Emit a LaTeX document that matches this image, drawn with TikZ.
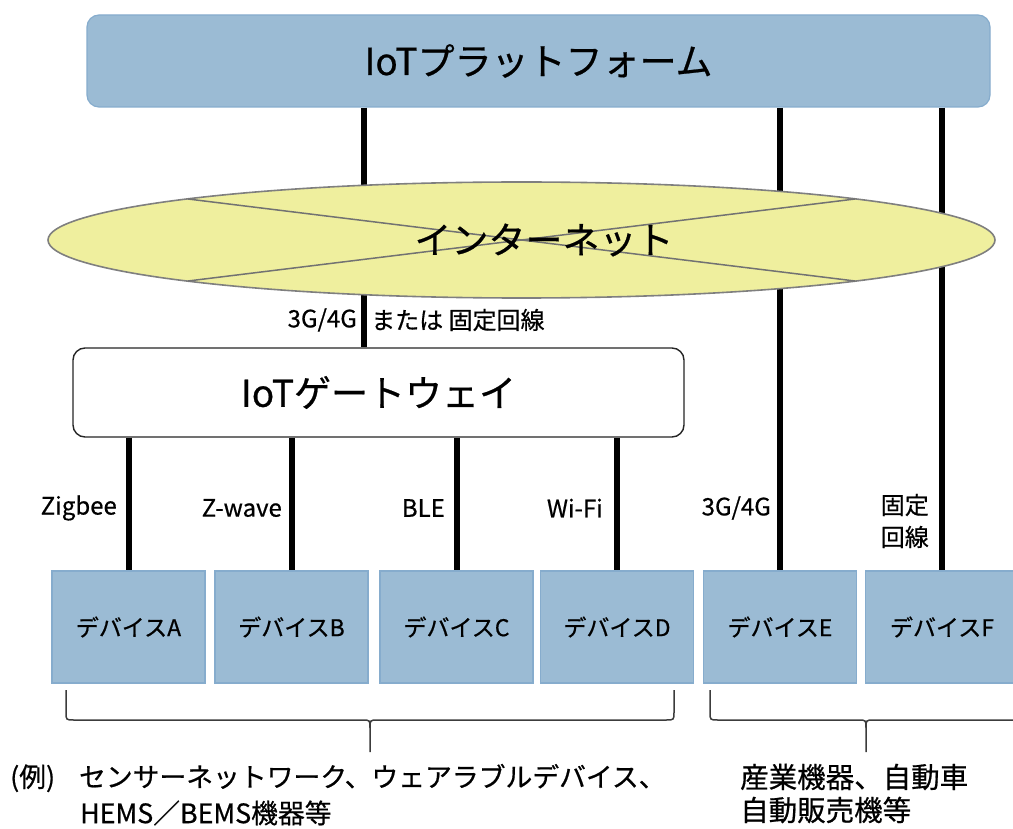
\documentclass[tikz,border=0pt]{standalone}
\usepackage{fontspec}
\setmainfont{Noto Sans CJK JP}[FakeBold=0.6]
\usetikzlibrary{shapes.geometric,calc}
\definecolor{boxblue}{HTML}{9BBBD4}
\definecolor{boxedge}{HTML}{86ACCD}
\definecolor{inetfill}{HTML}{EFEF9E}
\definecolor{inetedge}{HTML}{7F7F7F}
\definecolor{braceink}{HTML}{3C3C3C}
\begin{document}
\begin{tikzpicture}[x=1pt,y=-1pt,
  conn/.style={line width=6pt,black},
  platform/.style={draw=boxedge,line width=1.2pt,fill=boxblue,rounded corners=12pt,
    minimum width=903pt,minimum height=92pt,inner sep=0pt,font=\fontsize{37}{40}\selectfont},
  inetshape/.style={ellipse,draw=inetedge,line width=1.6pt,fill=inetfill,
    minimum width=947pt,minimum height=116pt,inner sep=0pt},
  crossline/.style={draw=inetedge!90!black,line width=1.5pt},
  bigtext/.style={inner sep=0pt,font=\fontsize{37}{40}\selectfont},
  gateway/.style={draw=black!85,line width=1.4pt,fill=white,rounded corners=12pt,
    minimum width=611pt,minimum height=89pt,inner sep=0pt,font=\fontsize{37}{40}\selectfont},
  device/.style={draw=boxedge,line width=1.2pt,fill=boxblue,minimum width=153pt,
    minimum height=112pt,inner sep=0pt,font=\fontsize{23}{26}\selectfont},
  proto/.style={inner sep=0pt,font=\fontsize{24}{32}\selectfont,align=center},
  note/.style={inner sep=0pt,anchor=west},
  brace/.style={draw=braceink,line width=1.5pt}
]
\useasboundingbox (0,0) rectangle (1013,829);
\clip (0,0) rectangle (1013,829);

% nodes
\node[platform] (plat) at (538.5,61) {IoTプラットフォーム};
\node[gateway] (gw) at (378.5,392.5) {IoTゲートウェイ};
\node[device] (devA) at (128.5,627) {デバイスA};
\node[device] (devB) at (291.5,627) {デバイスB};
\node[device] (devC) at (456.5,627) {デバイスC};
\node[device] (devD) at (617,627) {デバイスD};
\node[device] (devE) at (780,627) {デバイスE};
\node[device] (devF) at (942,627) {デバイスF};
\coordinate (mid) at (364,0);

% connectors (behind the internet ellipse)
\draw[conn] (plat.south -| mid) -- (gw.north -| mid);
\draw[conn] (plat.south -| devE.north) -- (devE.north);
\draw[conn] (plat.south -| devF.north) -- (devF.north);
\draw[conn] (gw.south -| devA.north) -- (devA.north);
\draw[conn] (gw.south -| devB.north) -- (devB.north);
\draw[conn] (gw.south -| devC.north) -- (devC.north);
\draw[conn] (gw.south -| devD.north) -- (devD.north);

% internet
\node[inetshape] (inet) at (521.5,240) {};
\draw[crossline] ($(inet.center)+(-333.5,-41)$) -- ($(inet.center)+(333.5,41)$);
\draw[crossline] ($(inet.center)+(-333.5,41)$) -- ($(inet.center)+(333.5,-41)$);
\node[bigtext] (inettext) at (544,240) {インターネット};

% link labels
\node[proto,anchor=east] (l1a) at (357,320) {3G/4G};
\node[proto,anchor=west] (l1b) at (371,320) {または 固定回線};
\node[proto,anchor=east] (lA) at (117,508) {Zigbee};
\node[proto,anchor=east] (lB) at (282,508) {Z-wave};
\node[proto,anchor=east] (lC) at (445,508) {BLE};
\node[proto,anchor=east] (lD) at (603,508) {Wi-Fi};
\node[proto,anchor=east] (lE) at (771,508) {3G/4G};
\node[proto,anchor=east] (lF) at (929,521) {固定\\回線};

% braces
\draw[brace] (66,690) -- (66,712) .. controls (66,720) .. (74,720) -- (362,720)
  .. controls (370,720) .. (370,728) -- (370,752);
\draw[brace] (674,690) -- (674,712) .. controls (674,720) .. (666,720) -- (378,720)
  .. controls (370,720) .. (370,728);
\draw[brace] (710,690) -- (710,712) .. controls (710,720) .. (718,720) -- (858,720)
  .. controls (866,720) .. (866,728) -- (866,752);
\draw[brace] (1022,690) -- (1022,712) .. controls (1022,720) .. (1014,720) -- (874,720)
  .. controls (866,720) .. (866,728);

% notes
\node[note,font=\fontsize{26.8}{30}\selectfont] (n1) at (10,778) {(例)\hspace{24pt}センサーネットワーク、ウェアラブルデバイス、};
\node[note,font=\fontsize{26.8}{30}\selectfont] (n2) at (80,813) {HEMS／BEMS機器等};
\node[note,font=\fontsize{28.5}{32}\selectfont] (n3) at (740,777) {産業機器、自動車};
\node[note,font=\fontsize{28.5}{32}\selectfont] (n4) at (740,810) {自動販売機等};
\end{tikzpicture}
\end{document}
